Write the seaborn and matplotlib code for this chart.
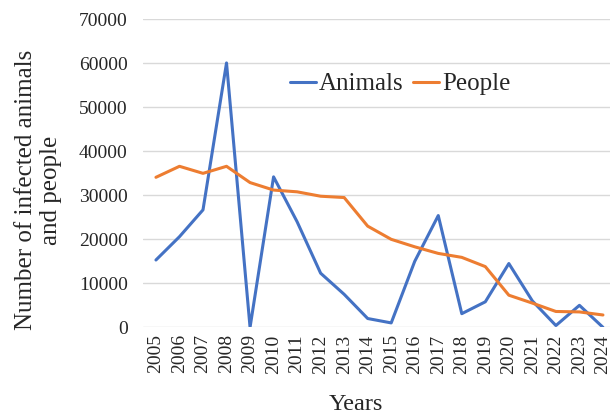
import pandas as pd
import seaborn as sns
import matplotlib.pyplot as plt

years = list(range(2005, 2025))
animals = [15300, 20600, 26700, 60100, 0, 34200, 24000, 12300, 7500, 2000,
           1000, 15000, 25400, 3100, 5800, 14500, 6000, 400, 5000, 0]
people = [34100, 36600, 35000, 36600, 32900, 31200, 30800, 29800, 29500, 23000,
          20000, 18300, 16800, 15900, 13800, 7300, 5500, 3600, 3500, 2800]

df = pd.DataFrame({"Years": years, "Animals": animals, "People": people})
long_df = df.melt(id_vars="Years", var_name="Group", value_name="Count")

sns.set_style("white")
plt.rcParams['font.family'] = ['Liberation Serif', 'DejaVu Serif']

fig = plt.figure(figsize=(6.14, 4.15), dpi=100)
ax = fig.add_axes([0.2329, 0.2113, 0.7606, 0.742])

sns.lineplot(data=long_df, x="Years", y="Count", hue="Group",
             palette={"Animals": "#4472C4", "People": "#ED7D31"},
             linewidth=2.2, ax=ax)

ax.set_ylim(0, 70000)
ax.set_xlim(2004.45, 2024.3)
ax.set_yticks(range(0, 70001, 10000))
ax.set_xticks(years)
ax.set_xticklabels([str(y) for y in years], rotation=90)
ax.tick_params(axis='both', labelsize=14, length=0)
ax.tick_params(axis='y', pad=11)
ax.tick_params(axis='x', pad=5)
ax.grid(axis='y', color='#d9d9d9', linewidth=1)
ax.set_axisbelow(True)
for s in ax.spines.values():
    s.set_visible(False)

ax.set_xlabel("Years", fontsize=17.5)
ax.set_ylabel("Number of infected animals\nand people", fontsize=18)
ax.xaxis.set_label_coords(0.456, -0.215)
ax.yaxis.set_label_coords(-0.1734, 0.446)

leg = ax.legend(loc='center', bbox_to_anchor=(0.55, 0.79), ncol=2,
                frameon=False, fontsize=18, handlelength=1.05,
                handletextpad=0.1, columnspacing=0.4)
for h in leg.get_lines():
    h.set_linewidth(2.2)

fig.savefig("out.png", dpi=100)
